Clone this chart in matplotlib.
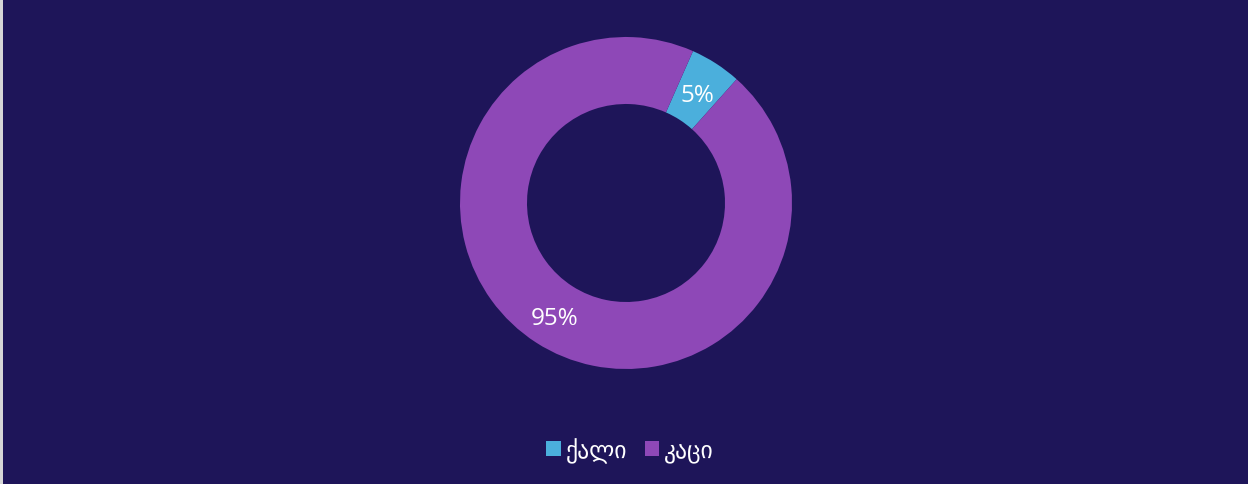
import matplotlib
matplotlib.use("Agg")
import matplotlib.pyplot as plt
from matplotlib.patches import Rectangle, Patch

categories = ["ქალი", "კაცი"]
values = [5, 95]
colors = ["#4BAFDC", "#8E48B7"]
bg = "#1E1559"

W, H = 1248, 485
fig = plt.figure(figsize=(W / 100, H / 100), dpi=100, facecolor=bg)
fig.patches.append(Rectangle((0, 0), 3 / W, 1, transform=fig.transFigure,
                             facecolor="#D6D6D6", edgecolor="none", zorder=10))

cx, cy, R = 626, 204, 166
ax = fig.add_axes([(cx - R) / W, (H - cy - R) / H, 2 * R / W, 2 * R / H])
ax.set_facecolor(bg)
ax.axis("off")

inner = 99 / R
wedges, texts, autotexts = ax.pie(
    values, colors=colors, startangle=90 - 23.8, counterclock=False,
    radius=1.0, wedgeprops=dict(width=1 - inner, edgecolor="none"),
    autopct=lambda p: f"{p:.0f}%", pctdistance=(1 + inner) / 2,
    textprops=dict(color="white", fontsize=17.5, family=["Open Sans", "DejaVu Sans"]))
for t in autotexts:
    x, y = t.get_position()
    t.set_position((x, y - 0.02))
ax.set_xlim(-1, 1)
ax.set_ylim(-1, 1)
ax.set_aspect("equal")

handles = [Patch(facecolor=c, edgecolor="none") for c in colors]
leg = fig.legend(handles, categories, loc="center",
                 bbox_to_anchor=(0.5 + 6 / W, 1 - 451 / H),
                 ncol=2, frameon=False, handlelength=0.62, handleheight=0.62,
                 handletextpad=0.2, columnspacing=0.75,
                 prop=dict(size=17, family=["DejaVu Sans"]))
for t in leg.get_texts():
    t.set_color("white")

fig.savefig("out.png", dpi=100, facecolor=bg)
